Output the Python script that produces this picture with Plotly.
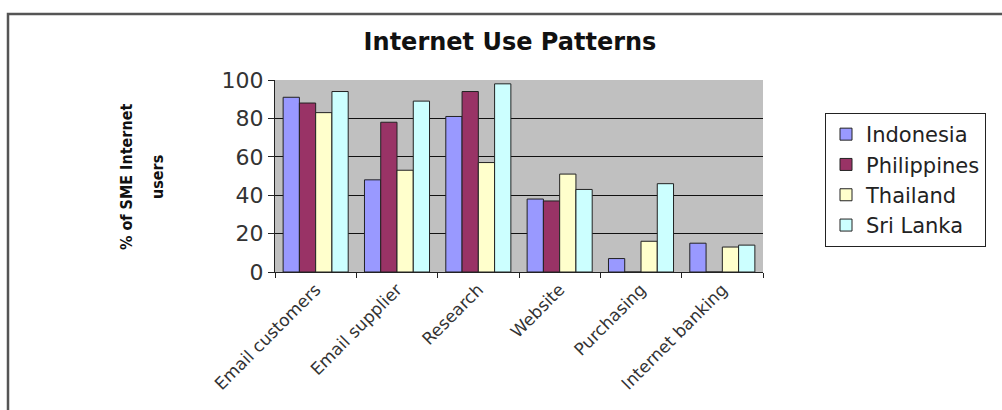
import plotly.graph_objects as go

categories = ["Email customers", "Email supplier", "Research", "Website", "Purchasing", "Internet banking"]
indonesia = [91, 48, 81, 38, 7, 15]
philippines = [88, 78, 94, 37, 0, 0]
thailand = [83, 53, 57, 51, 16, 13]
sri_lanka = [94, 89, 98, 43, 46, 14]
y_ticks = [0, 20, 40, 60, 80, 100]

series = [
    ("Indonesia", indonesia, "#9999FF"),
    ("Philippines", philippines, "#993366"),
    ("Thailand", thailand, "#FFFFCC"),
    ("Sri Lanka", sri_lanka, "#CCFFFF"),
]

fig = go.Figure()
for i, (name, vals, col) in enumerate(series):
    fig.add_trace(go.Bar(
        x=categories, y=vals, name=name, legendgroup=f"g{i}",
        marker=dict(color=col, line=dict(color="#222222", width=1)),
    ))

L, R, T, B = 275, 239, 80, 138
W = 1002 - L - R
H = 410 - T - B

def px_x(x):
    return (x - L) / W

def px_y(y):
    return (410 - B - y) / H

ytitle_font = dict(family="Liberation Sans Narrow, DejaVu Sans Condensed, Arial Narrow, Arial", size=16, color="#111111")

fig.update_layout(
    width=1002, height=410,
    margin=dict(l=L, r=R, t=T, b=B, pad=0),
    paper_bgcolor="white",
    plot_bgcolor="#C0C0C0",
    barmode="group", bargap=0.2, bargroupgap=0,
    font=dict(family="DejaVu Sans, Arial", color="#222222"),
    title=dict(text="<b>Internet Use Patterns</b>", x=px_x(510), xref="paper", xanchor="center",
               y=1 - 42 / 410, yanchor="middle",
               font=dict(family="DejaVu Sans", size=24, color="#111111")),
    showlegend=True,
    legend=dict(x=px_x(825), y=px_y(113), xanchor="left", yanchor="top",
                bordercolor="#222222", borderwidth=1, bgcolor="white",
                font=dict(family="DejaVu Sans", size=21, color="#222222"),
                tracegroupgap=9, traceorder="normal"),
    xaxis=dict(showgrid=False, ticks="outside", tickson="boundaries", ticklen=5,
               tickcolor="#222222", showline=True, linecolor="#222222",
               tickangle=-45, tickfont=dict(family="DejaVu Sans", size=17, color="#333333")),
    yaxis=dict(range=[0, 100], tickvals=y_ticks, showgrid=True, gridcolor="#111111", gridwidth=1,
               ticks="outside", ticklen=6, tickcolor="#222222", showline=True, linecolor="#222222",
               tickfont=dict(family="DejaVu Sans", size=22, color="#333333"), zeroline=False),
    annotations=[
        dict(text="<b>% of SME Internet</b>", x=px_x(126), y=px_y(177), xanchor="center", yanchor="middle",
             xref="paper", yref="paper", textangle=-90, showarrow=False, font=ytitle_font),
        dict(text="<b>users</b>", x=px_x(157), y=px_y(177), xanchor="center", yanchor="middle",
             xref="paper", yref="paper", textangle=-90, showarrow=False, font=ytitle_font),
    ],
    shapes=[dict(type="rect", xref="paper", yref="paper",
                 x0=px_x(8), x1=px_x(1012), y0=px_y(14), y1=px_y(425),
                 line=dict(color="#555555", width=2.5), fillcolor="rgba(0,0,0,0)", layer="above")],
)

fig.write_html("out.html")
